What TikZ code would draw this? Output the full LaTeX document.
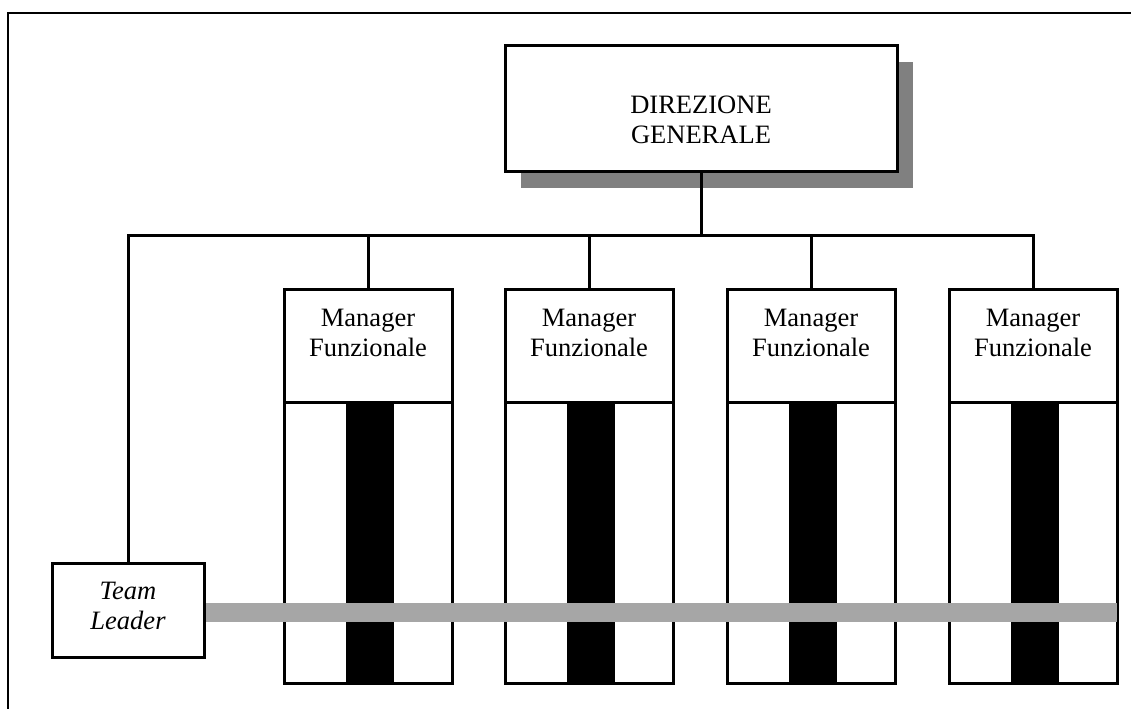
\documentclass[tikz,border=0pt]{standalone}
\usepackage{fontspec}
\setmainfont{Liberation Serif}
\definecolor{shadowgray}{HTML}{808080}
\definecolor{bargray}{HTML}{A6A6A6}
\begin{document}
\begin{tikzpicture}[x=0.75pt,y=-0.75pt,
  box/.style={draw=black,line width=2.25pt,fill=white,inner sep=0pt},
  wire/.style={line width=2.25pt},
  lbl/.style={font=\fontsize{19.9}{22.5}\selectfont,align=center,inner sep=0pt}]
\useasboundingbox (0,0) rectangle (1131,709);
% page frame
\draw[line width=1.5pt] (8,709) -- (8,13) -- (1131,13);

% general direction, with its drop shadow
\fill[shadowgray] (521,62) rectangle (913,188);
\node[box,minimum width=294pt,minimum height=94.5pt] (dg) at (701,109) {};
\node[lbl] (dgt) at (701,119.5) {DIREZIONE\\GENERALE};

% functional managers: header box and column with the black band
\foreach \i/\cx in {1/368,2/589,3/811,4/1033}{
  \node[box,minimum width=126pt,minimum height=210.75pt] (c\i) at (\cx,542.5) {};
  \fill[black] (\cx-22,402) rectangle (\cx+26,683);
  \node[box,minimum width=126pt,minimum height=84.75pt] (m\i) at (\cx,345.5) {};
  \node[lbl] (mt\i) at (\cx,333) {Manager\\Funzionale};
}

% team leader
\node[box,minimum width=114pt,minimum height=70.5pt] (tl) at (128,610) {};
\node[lbl,font=\fontsize{19.9}{22.5}\selectfont\itshape] (tlt) at (128,606) {Team\\Leader};

% connectors
\coordinate (busR) at (1033,236);
\draw[wire] (dg.south) -- (dg.south |- busR);
\draw[wire] (tl.north) |- (busR) -- (m4.north);
\foreach \i in {1,2,3}{
  \draw[wire] (m\i.north) -- ([yshift=1.5pt]m\i.north |- busR);
}

% project band across the functions
\fill[bargray] (tl.east |- 0,603) rectangle (1117,622);
\end{tikzpicture}
\end{document}
